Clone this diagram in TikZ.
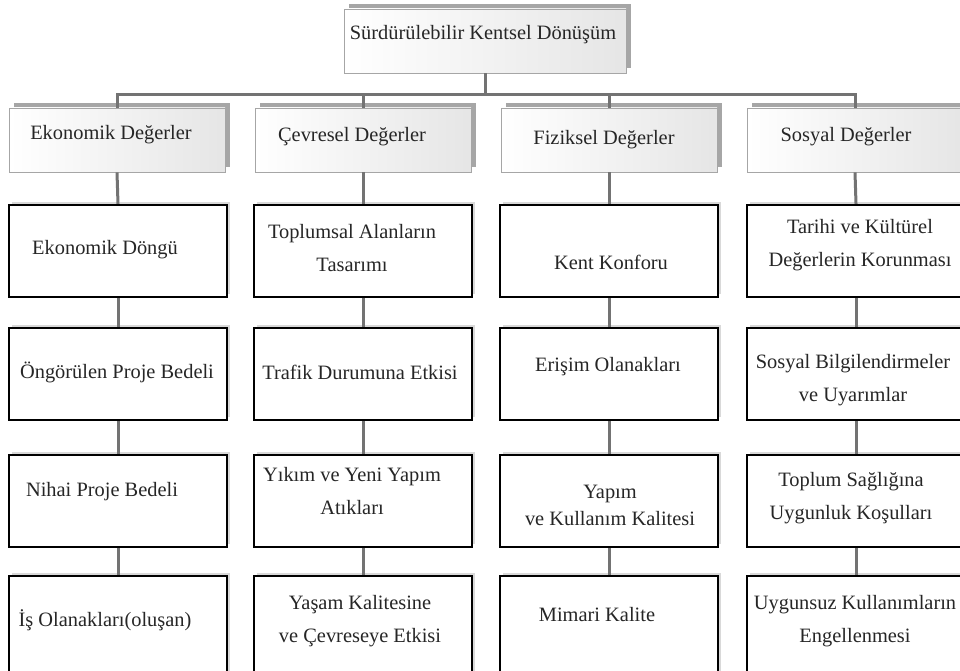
\documentclass[tikz,border=0pt]{standalone}
\usepackage{fontspec}
\setmainfont{Liberation Serif}
\usetikzlibrary{shadows}

\begin{document}
\begin{tikzpicture}[x=1pt, y=-1pt,
  txt/.style={align=center, inner sep=0pt, text=black!85, font=\fontsize{20.4}{33}\selectfont},
  head/.style={draw=black!35, line width=0.9pt, minimum width=216pt, minimum height=64pt, left color=white, right color=black!10,
    drop shadow={shadow xshift=5pt, shadow yshift=5pt, fill=black!35, opacity=1}},
  box/.style={draw=black, line width=2.2pt, fill=white, minimum width=218pt, minimum height=92pt,
    drop shadow={shadow xshift=3pt, shadow yshift=3pt, fill=black!15, opacity=1}},
  lastbox/.style={box, minimum height=98pt},
  conn/.style={line width=3pt, draw=black!55}
]
\useasboundingbox (0,0) rectangle (960,671);
% top
\node[head, minimum width=282pt] (sur) at (485,41) {};
\node[txt] (sur-t) at (483,35) {Sürdürülebilir Kentsel Dönüşüm};
% headers
\node[head] (eko) at (117,140) {};
\node[head] (cev) at (363,140) {};
\node[head] (fiz) at (609,140) {};
\node[head] (sos) at (855,140) {};
\node[txt] (eko-t) at (111,135) {Ekonomik Değerler};
\node[txt] (cev-t) at (352,137) {Çevresel Değerler};
\node[txt] (fiz-t) at (604,140) {Fiziksel Değerler};
\node[txt] (sos-t) at (846,137) {Sosyal Değerler};
% boxes
\node[box] (eko1) at (118,251) {};
\node[box] (eko2) at (118,374) {};
\node[box] (eko3) at (118,501) {};
\node[lastbox] (eko4) at (118,625) {};
\node[box] (cev1) at (363,251) {};
\node[box] (cev2) at (363,374) {};
\node[box] (cev3) at (363,501) {};
\node[lastbox] (cev4) at (363,625) {};
\node[box] (fiz1) at (609,251) {};
\node[box] (fiz2) at (609,374) {};
\node[box] (fiz3) at (609,501) {};
\node[lastbox] (fiz4) at (609,625) {};
\node[box] (sos1) at (856,251) {};
\node[box] (sos2) at (856,374) {};
\node[box] (sos3) at (856,501) {};
\node[lastbox] (sos4) at (856,625) {};
% texts
\node[txt] (eko1-t) at (105,250) {Ekonomik Döngü};
\node[txt] (eko2-t) at (117,372) {Öngörülen Proje Bedeli};
\node[txt] (eko3-t) at (102,492) {Nihai Proje Bedeli};
\node[txt] (eko4-t) at (105,620) {İş Olanakları(oluşan)};
\node[txt] (cev1-t) at (352,248) {Toplumsal Alanların\\Tasarımı};
\node[txt] (cev2-t) at (360,372) {Trafik Durumuna Etkisi};
\node[txt] (cev3-t) at (352,491) {Yıkım ve Yeni Yapım\\Atıkları};
\node[txt] (cev4-t) at (360,621) {Yaşam Kalitesine\\ve Çevreseye Etkisi};
\node[txt] (fiz1-t) at (611,262) {Kent Konforu};
\node[txt] (fiz2-t) at (608,367) {Erişim Olanakları};
\node[txt] (fiz3-t) at (610,505) {Yapım\\[-6pt]ve Kullanım Kalitesi};
\node[txt] (fiz4-t) at (597,615) {Mimari Kalite};
\node[txt] (sos1-t) at (860,245) {Tarihi ve Kültürel\\Değerlerin Korunması};
\node[txt] (sos2-t) at (853,380) {Sosyal Bilgilendirmeler\\ve Uyarımlar};
\node[txt] (sos3-t) at (851,498) {Toplum Sağlığına\\Uygunluk Koşulları};
\node[txt] (sos4-t) at (855,621) {Uygunsuz Kullanımların\\Engellenmesi};
% connectors
\coordinate (bus) at (485,95);
\draw[conn] (sur.south) -- (bus);
\draw[conn] (bus) -| (eko.north);
\draw[conn] (bus) -| (cev.north);
\draw[conn] (bus) -| (fiz.north);
\draw[conn] (bus) -| (sos.north);
\draw[conn] (eko.south) -- (eko1.north);
\draw[conn] (eko1.south) -- (eko2.north);
\draw[conn] (eko2.south) -- (eko3.north);
\draw[conn] (eko3.south) -- (eko4.north);
\draw[conn] (cev.south) -- (cev1.north);
\draw[conn] (cev1.south) -- (cev2.north);
\draw[conn] (cev2.south) -- (cev3.north);
\draw[conn] (cev3.south) -- (cev4.north);
\draw[conn] (fiz.south) -- (fiz1.north);
\draw[conn] (fiz1.south) -- (fiz2.north);
\draw[conn] (fiz2.south) -- (fiz3.north);
\draw[conn] (fiz3.south) -- (fiz4.north);
\draw[conn] (sos.south) -- (sos1.north);
\draw[conn] (sos1.south) -- (sos2.north);
\draw[conn] (sos2.south) -- (sos3.north);
\draw[conn] (sos3.south) -- (sos4.north);
\end{tikzpicture}
\end{document}
